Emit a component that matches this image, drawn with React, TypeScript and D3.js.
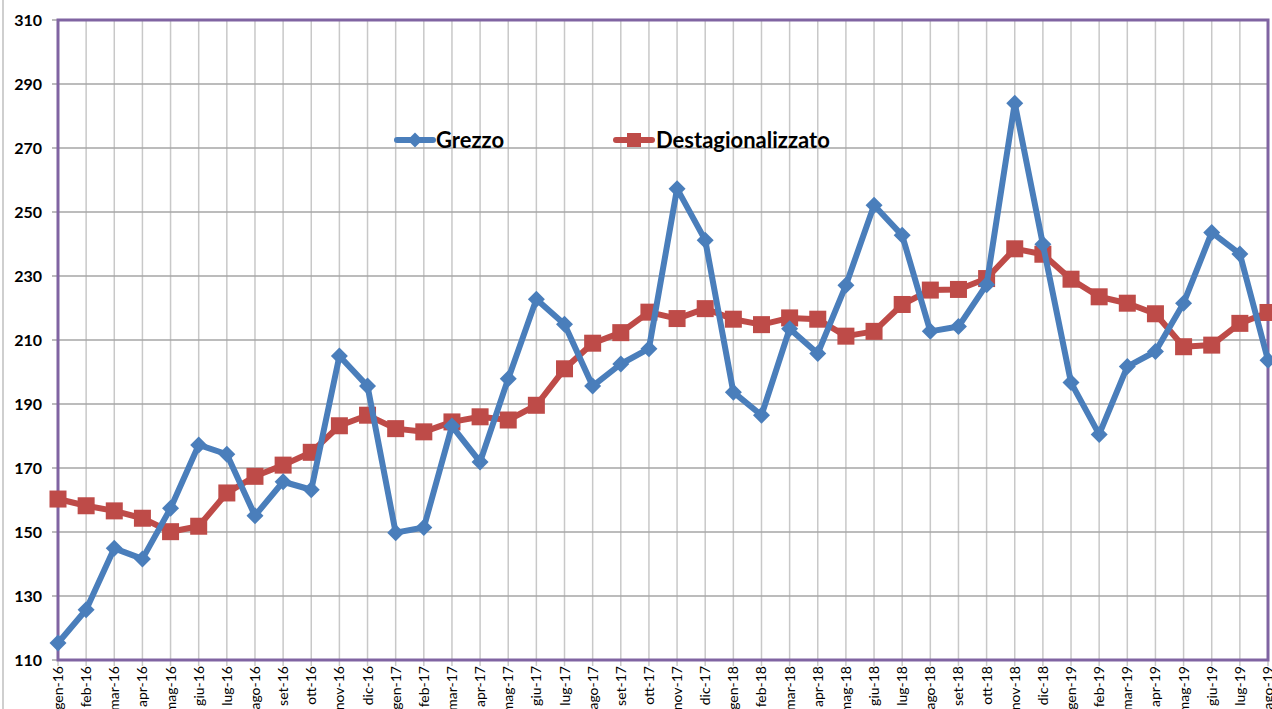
import React from "react";
import * as d3 from "d3";

const categories = [
  "gen-16","feb-16","mar-16","apr-16","mag-16","giu-16","lug-16","ago-16","set-16","ott-16","nov-16","dic-16",
  "gen-17","feb-17","mar-17","apr-17","mag-17","giu-17","lug-17","ago-17","set-17","ott-17","nov-17","dic-17",
  "gen-18","feb-18","mar-18","apr-18","mag-18","giu-18","lug-18","ago-18","set-18","ott-18","nov-18","dic-18",
  "gen-19","feb-19","mar-19","apr-19","mag-19","giu-19","lug-19","ago-19"
];

const grezzo = [
  115.3,125.7,144.9,141.6,157.4,177.2,174.3,155.1,165.7,163.2,205.0,195.6,
  149.8,151.4,183.1,171.9,197.9,222.7,214.9,195.6,202.5,207.3,257.3,241.2,
  193.7,186.5,213.5,205.8,227.1,252.1,242.7,212.7,214.2,227.3,284.0,239.9,
  196.7,180.5,201.7,206.4,221.5,243.6,236.9,203.7
];

const destagionalizzato = [
  160.3,158.2,156.6,154.3,150.1,151.8,162.2,167.4,170.9,174.9,183.2,186.5,
  182.3,181.3,184.4,186.0,185.0,189.6,201.0,209.0,212.3,218.7,216.7,219.8,
  216.5,214.8,216.9,216.5,211.2,212.7,221.1,225.6,225.8,229.2,238.5,236.8,
  229.0,223.5,221.5,218.2,207.9,208.4,215.2,218.6
];

const yTicks = [110,130,150,170,190,210,230,250,270,290,310];

const W = 1272, H = 709;
const left = 58, right = 1268, top = 20, bottom = 660;
const BLUE = "#4A7EBB";
const RED = "#BE4B48";
const PURPLE = "#8064A2";
const FONT = "Lato, 'Open Sans', 'Liberation Sans', sans-serif";

export default function App() {
  const x = d3.scalePoint<string>().domain(categories).range([left, right]);
  const y = d3.scaleLinear().domain([110, 310]).range([bottom, top]);

  const line = d3.line<number>()
    .x((_, i) => x(categories[i]) as number)
    .y((d) => y(d));

  const diamond = (cx: number, cy: number, r: number) =>
    `M${cx},${cy - r}L${cx + r},${cy}L${cx},${cy + r}L${cx - r},${cy}Z`;

  return (
    <svg width={W} height={H} style={{ position: "absolute", left: 0, top: 0, background: "#fff" }}>
      <rect x={0} y={0} width={W} height={H} fill="#fff" />
      <line x1={3} x2={3} y1={0} y2={H} stroke="#BFBFBF" strokeWidth={1.5} />
      {categories.map((c) => (
        <line key={"v" + c} x1={x(c)} x2={x(c)} y1={top} y2={bottom + 6} stroke="#C8C8C8" strokeWidth={1.5} />
      ))}
      {yTicks.map((t) => (
        <line key={"h" + t} x1={left - 6} x2={right} y1={y(t)} y2={y(t)} stroke="#A6A6A6" strokeWidth={1.5} />
      ))}
      <rect x={left} y={top} width={right - left} height={bottom - top} fill="none" stroke={PURPLE} strokeWidth={3} />
      {yTicks.map((t) => (
        <text key={"yl" + t} x={42} y={y(t) + 5.5} textAnchor="end" fontFamily={FONT} fontWeight="bold" fontSize={16} fill="#000">
          {t}
        </text>
      ))}
      {categories.map((c) => (
        <text key={"xl" + c} transform={`translate(${(x(c) as number) + 5},${bottom + 6}) rotate(-90)`} textAnchor="end"
          fontFamily={FONT} fontSize={14} fill="#000">
          {c}
        </text>
      ))}
      <path d={line(destagionalizzato) || ""} fill="none" stroke={RED} strokeWidth={6} strokeLinejoin="round" />
      {destagionalizzato.map((v, i) => (
        <rect key={"r" + i} x={(x(categories[i]) as number) - 8.5} y={y(v) - 8.5} width={17} height={17} fill={RED} />
      ))}
      <path d={line(grezzo) || ""} fill="none" stroke={BLUE} strokeWidth={6} strokeLinejoin="round" />
      {grezzo.map((v, i) => (
        <path key={"b" + i} d={diamond(x(categories[i]) as number, y(v), 8.5)} fill={BLUE} />
      ))}
      <line x1={397} x2={433} y1={140} y2={140} stroke={BLUE} strokeWidth={6} strokeLinecap="round" />
      <path d={diamond(415, 140, 7.5)} fill={BLUE} />
      <text x={436} y={148} fontFamily={FONT} fontWeight="bold" fontSize={22} fill="#000">Grezzo</text>
      <line x1={616} x2={652} y1={140} y2={140} stroke={RED} strokeWidth={6} strokeLinecap="round" />
      <rect x={627} y={133} width={14} height={14} fill={RED} />
      <text x={656} y={148} fontFamily={FONT} fontWeight="bold" fontSize={22} fill="#000">Destagionalizzato</text>
    </svg>
  );
}
